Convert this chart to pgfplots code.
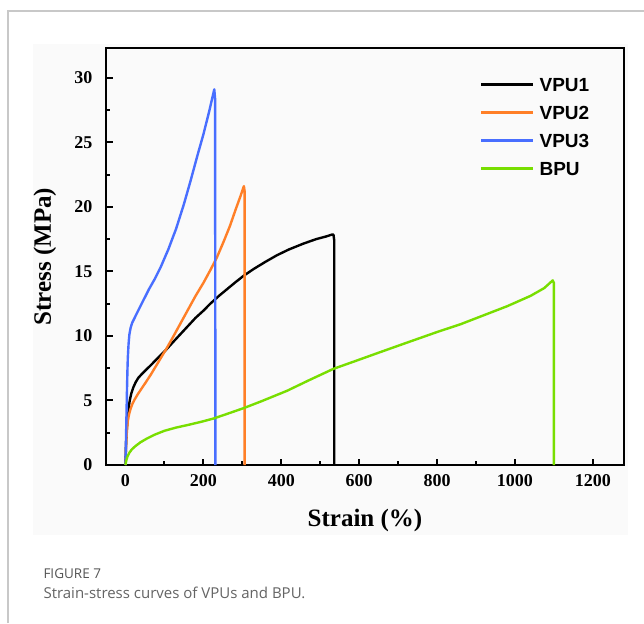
\documentclass[border=0pt]{standalone}
\usepackage{pgfplots}
\pgfplotsset{compat=1.18}
\usepackage{fontspec}
\setmainfont{Liberation Serif}
\newfontfamily\arial{Liberation Sans}
\newfontfamily\capfont{Open Sans}
\definecolor{vorange}{RGB}{255,127,39}
\definecolor{vblue}{RGB}{72,110,255}
\definecolor{vgreen}{RGB}{120,222,0}
\definecolor{panel}{RGB}{250,250,250}
\definecolor{framegray}{RGB}{200,200,200}
\definecolor{capgray}{RGB}{100,100,100}
\definecolor{capdark}{RGB}{85,85,85}

\begin{document}
\begin{tikzpicture}
\path[use as bounding box] (0,0) rectangle (644pt,-623pt);
\fill[white] (0,0) rectangle (644pt,-623pt);
\draw[framegray, line width=1.3pt] (8pt,-623pt) -- (8pt,-11pt) -- (644pt,-11pt);
\fill[panel] (33pt,-44pt) rectangle (628pt,-535pt);
\begin{axis}[
  at={(106pt,-465pt)}, anchor=south west,
  scale only axis, width=518pt, height=417pt,
  xmin=-50, xmax=1280, ymin=0, ymax=32.3,
  axis line style={line width=2.4pt},
  xtick={0,200,...,1200}, ytick={0,5,...,30},
  minor x tick num=1, minor y tick num=1,
  tick align=inside, xtick pos=bottom, ytick pos=left,
  major tick length=6.5pt, minor tick length=4pt,
  every tick/.style={line width=2pt, black},
  /pgf/number format/assume math mode=true,
  /pgf/number format/set thousands separator={},
  tick label style={font=\bfseries\fontsize{18}{18}\selectfont},
  xticklabel style={yshift=-6pt},
  yticklabel style={xshift=-10pt},
  xlabel={Strain (\%)}, ylabel={Stress (MPa)},
  label style={font=\bfseries\fontsize{25}{25}\selectfont},
  xlabel style={at={(axis description cs:0.5,-0.132)}, anchor=center},
  ylabel style={at={(axis description cs:-0.118,0.5)}, anchor=center},
  legend style={at={(axis description cs:0.722,0.930)}, anchor=north west,
    draw=none, fill=none, inner sep=0pt, column sep=5pt, row sep=14pt,
    font=\arial\bfseries\fontsize{19}{19}\selectfont,
    nodes={inner sep=0pt, text height=14pt, text depth=0pt}},
  legend cell align=left,
  legend image code/.code={\draw[#1, line width=2.4pt] (0pt,0pt) -- (52pt,0pt);},
  every axis plot/.append style={line width=2.4pt, line join=round},
]
\addplot[black] coordinates {
(0,0) (1,1.2) (2,2.0) (4,3.0) (6,3.8) (8,4.4) (11,5.0) (15,5.55) (20,6.0)
(26,6.4) (33,6.75) (42,7.05) (52,7.35) (64,7.7) (77,8.1) (90,8.5) (105,8.95)
(120,9.45) (140,10.1) (160,10.75) (180,11.4) (200,11.95) (218,12.5) (240,13.1)
(260,13.6) (280,14.1) (303,14.65) (330,15.2) (360,15.75) (389,16.25) (420,16.7)
(457,17.15) (490,17.5) (515,17.7) (530,17.85) (534,17.85) (536,17.4) (536,0)};
\addlegendentry{VPU1}
\addplot[vorange] coordinates {
(0,0) (1,1.0) (2,1.8) (4,2.8) (6,3.4) (9,3.9) (13,4.35) (18,4.75) (24,5.1)
(32,5.5) (42,5.95) (52,6.4) (64,6.95) (77,7.6) (90,8.25) (105,9.0) (120,9.8)
(140,10.9) (160,12.0) (180,13.1) (200,14.1) (218,15.1) (235,16.1) (252,17.3)
(268,18.5) (283,19.8) (295,20.8) (304,21.6) (306,21.2) (306,0)};
\addlegendentry{VPU2}
\addplot[vblue] coordinates {
(0,0) (1,1.5) (2,3) (3,4.5) (4,6) (5,7.3) (6,8.3) (8,9.4) (10,10.1) (13,10.6)
(17,11.0) (30,11.8) (45,12.7) (60,13.6) (75,14.4) (90,15.3) (110,16.7)
(130,18.3) (150,20.2) (167,22.0) (185,24.0) (200,25.6) (215,27.4) (228,29.1)
(230,28.4) (231,0)};
\addlegendentry{VPU3}
\addplot[vgreen] coordinates {
(0,0) (2,0.35) (5,0.65) (10,0.95) (16,1.2) (25,1.45) (38,1.75) (55,2.05)
(75,2.35) (100,2.65) (130,2.9) (160,3.1) (195,3.35) (226,3.6) (260,3.95)
(303,4.4) (350,4.95) (415,5.75) (470,6.55) (534,7.45) (590,8.05) (650,8.7)
(720,9.45) (800,10.3) (860,10.9) (920,11.6) (980,12.3) (1040,13.1)
(1075,13.7) (1097,14.3) (1100,14.1) (1100,0)};
\addlegendentry{BPU}
\end{axis}
\node[anchor=base west, text=capdark, font=\capfont\fontsize{13.5}{13.5}\selectfont] at (40pt,-578pt) {FIGURE 7};
\node[anchor=base west, text=capgray, font=\capfont\fontsize{15}{15}\selectfont] at (40pt,-598pt) {Strain-stress curves of VPUs and BPU.};
\end{tikzpicture}
\end{document}
